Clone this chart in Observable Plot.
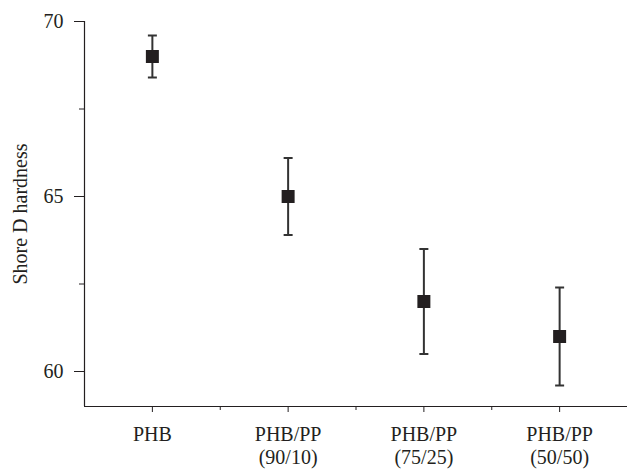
<!DOCTYPE html>
<html>
<head>
<meta charset="utf-8">
<script src="https://cdn.jsdelivr.net/npm/d3@7"></script>
<script src="https://cdn.jsdelivr.net/npm/@observablehq/plot@0.6"></script>
<style>
  html, body { margin: 0; padding: 0; background: #fff; }
  #chart { width: 627px; height: 470px; }
  #chart svg text { font-size: 20px; }
</style>
</head>
<body>
<div id="chart"></div>
<script>
const categories = ["PHB", "PHB/PP\n(90/10)", "PHB/PP\n(75/25)", "PHB/PP\n(50/50)"];
const hardness = [69.0, 65.0, 62.0, 61.0];
const errLow = [68.4, 63.9, 60.5, 59.6];
const errHigh = [69.6, 66.1, 63.5, 62.4];
const yTicks = [60, 65, 70];
const yMinorTicks = [62.5, 67.5];
const xMinorTicks = [0.5, 1.5, 2.5];

const data = categories.map((c, i) => ({i, c, v: hardness[i], lo: errLow[i], hi: errHigh[i]}));
const ink = "#231f20";
const capSymbol = {
  draw(context) {
    context.moveTo(-4.5, 0);
    context.lineTo(4.5, 0);
  }
};

const chart = Plot.plot({
  width: 627,
  height: 470,
  marginTop: 21,
  marginBottom: 64,
  marginLeft: 84,
  marginRight: 0,
  style: {fontFamily: "'Liberation Serif', 'Times New Roman', serif", fontSize: "20px", color: ink, background: "#fff"},
  x: {domain: [-0.5, 3.5], axis: null},
  y: {domain: [59, 70], axis: null},
  marks: [
    Plot.axisY({ticks: yTicks, tickFormat: d => String(d), tickSize: 10, tickPadding: 11, stroke: ink, fill: ink, label: null}),
    Plot.axisY({ticks: yMinorTicks, tickFormat: () => "", tickSize: 5, stroke: ink, label: null}),
    Plot.axisX({ticks: d3.range(categories.length), tickFormat: i => categories[i], tickSize: 6, tickPadding: 12, lineHeight: 1.15, stroke: ink, fill: ink, label: null}),
    Plot.axisX({ticks: xMinorTicks, tickFormat: () => "", tickSize: 4, stroke: ink, label: null}),
    Plot.ruleX([-0.5], {stroke: ink, strokeWidth: 1.2}),
    Plot.ruleY([59], {stroke: ink, strokeWidth: 1.2}),
    Plot.text(["Shore D hardness"], {frameAnchor: "left", textAnchor: "middle", dx: -64, rotate: -90, fill: ink}),
    Plot.ruleX(data, {x: "i", y1: "lo", y2: "hi", stroke: "#333", strokeWidth: 2}),
    Plot.dot(data, {x: "i", y: "lo", symbol: capSymbol, r: 4, stroke: "#333", strokeWidth: 2, fill: "none"}),
    Plot.dot(data, {x: "i", y: "hi", symbol: capSymbol, r: 4, stroke: "#333", strokeWidth: 2, fill: "none"}),
    Plot.dot(data, {x: "i", y: "v", symbol: "square", r: 7.33, fill: ink, stroke: "none"})
  ]
});
document.getElementById("chart").appendChild(chart);
</script>
</body>
</html>
